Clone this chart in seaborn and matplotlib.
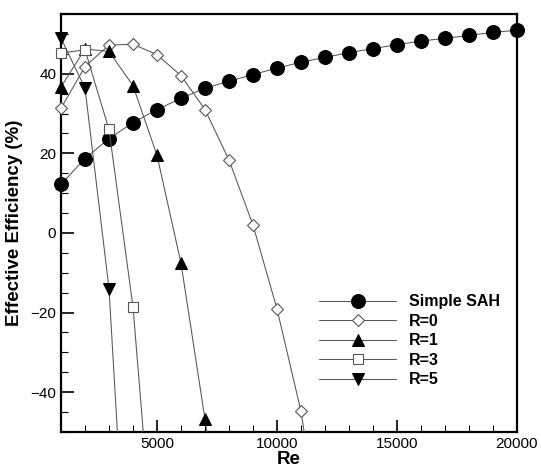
import numpy as np
import pandas as pd
import matplotlib
matplotlib.use("Agg")
import matplotlib.pyplot as plt
import seaborn as sns
from matplotlib.ticker import MultipleLocator
from matplotlib.patches import Rectangle

sns.set_style("ticks")
plt.rcParams['font.family'] = ['Liberation Sans', 'DejaVu Sans']
plt.rcParams['text.color'] = 'black'
plt.rcParams['axes.labelcolor'] = 'black'
plt.rcParams['xtick.color'] = 'black'
plt.rcParams['ytick.color'] = 'black'

# data
re_sah = [1000, 2000, 3000, 4000, 5000, 6000, 7000, 8000, 9000, 10000,
          11000, 12000, 13000, 14000, 15000, 16000, 17000, 18000, 19000, 20000]
eff_sah = [12.2, 18.7, 23.7, 27.7, 31.0, 33.8, 36.4, 38.1, 39.8, 41.4,
           42.9, 44.1, 45.3, 46.3, 47.3, 48.2, 48.9, 49.6, 50.4, 50.9]

re_r0 = [1000, 2000, 3000, 4000, 5000, 6000, 7000, 8000, 9000, 10000, 11000, 12000]
eff_r0 = [31.3, 41.8, 47.2, 47.4, 44.8, 39.5, 31.0, 18.3, 2.0, -19.1, -44.8, -85.0]

re_r1 = [1000, 2000, 3000, 4000, 5000, 6000, 7000, 8000]
eff_r1 = [36.7, 46.2, 45.6, 37.0, 19.5, -7.6, -46.8, -90.0]

re_r3 = [1000, 2000, 3000, 4000, 5000]
eff_r3 = [45.2, 46.0, 26.0, -18.6, -92.0]

re_r5 = [1000, 2000, 3000, 4000]
eff_r5 = [48.9, 36.4, -14.0, -117.0]

fig = plt.figure(figsize=(5.41, 4.65), dpi=100)
ax = fig.add_axes([61 / 541, 33 / 465, 456 / 541, 418 / 465])

line_col = '#555555'
series = [
    ('Simple SAH', re_sah, eff_sah, dict(marker='o', markersize=10, markerfacecolor='black', markeredgecolor='black')),
    ('R=0', re_r0, eff_r0, dict(marker='D', markersize=6.3, markerfacecolor='white', markeredgecolor='#555555', markeredgewidth=0.8)),
    ('R=1', re_r1, eff_r1, dict(marker='^', markersize=8, markerfacecolor='black', markeredgecolor='black')),
    ('R=3', re_r3, eff_r3, dict(marker='s', markersize=7.5, markerfacecolor='white', markeredgecolor='#555555', markeredgewidth=0.8)),
    ('R=5', re_r5, eff_r5, dict(marker='v', markersize=8, markerfacecolor='black', markeredgecolor='black')),
]

for name, xs, ys, mk in series:
    df = pd.DataFrame({'Re': xs, 'eff': ys})
    sns.lineplot(data=df, x='Re', y='eff', ax=ax, color=line_col, linewidth=0.75,
                 label=name, zorder=3, **mk)

# markers may overhang the left, right and top frame, but not the bottom
clip = Rectangle((-0.05, 0), 1.1, 1.1, transform=ax.transAxes, facecolor='none', edgecolor='none')
ax.add_patch(clip)
for ln in ax.get_lines():
    ln.set_clip_path(clip)

ax.set_xlim(1000, 20000)
ax.set_ylim(-50, 55)
ax.xaxis.set_major_locator(MultipleLocator(5000))
ax.xaxis.set_minor_locator(MultipleLocator(1000))
ax.yaxis.set_major_locator(MultipleLocator(20))
ax.yaxis.set_minor_locator(MultipleLocator(5))
ax.tick_params(which='both', direction='in', top=False, right=False, labelsize=11, width=1.2)
ax.tick_params(which='major', length=9)
ax.tick_params(which='minor', length=5, width=0.8)
for s in ax.spines.values():
    s.set_linewidth(1.6)
    s.set_color('black')

ax.set_xlabel('Re', fontsize=13.5, fontweight='bold', labelpad=0)
ax.set_ylabel('Effective Efficiency (%)', fontsize=13.5, fontweight='bold', labelpad=5)

leg = ax.legend(loc='center left', bbox_to_anchor=(0.535, 0.218), frameon=False,
                handlelength=4.8, handletextpad=0.8, labelspacing=0.28,
                prop={'weight': 'bold', 'size': 11.5})

fig.savefig('out.png', dpi=100)
